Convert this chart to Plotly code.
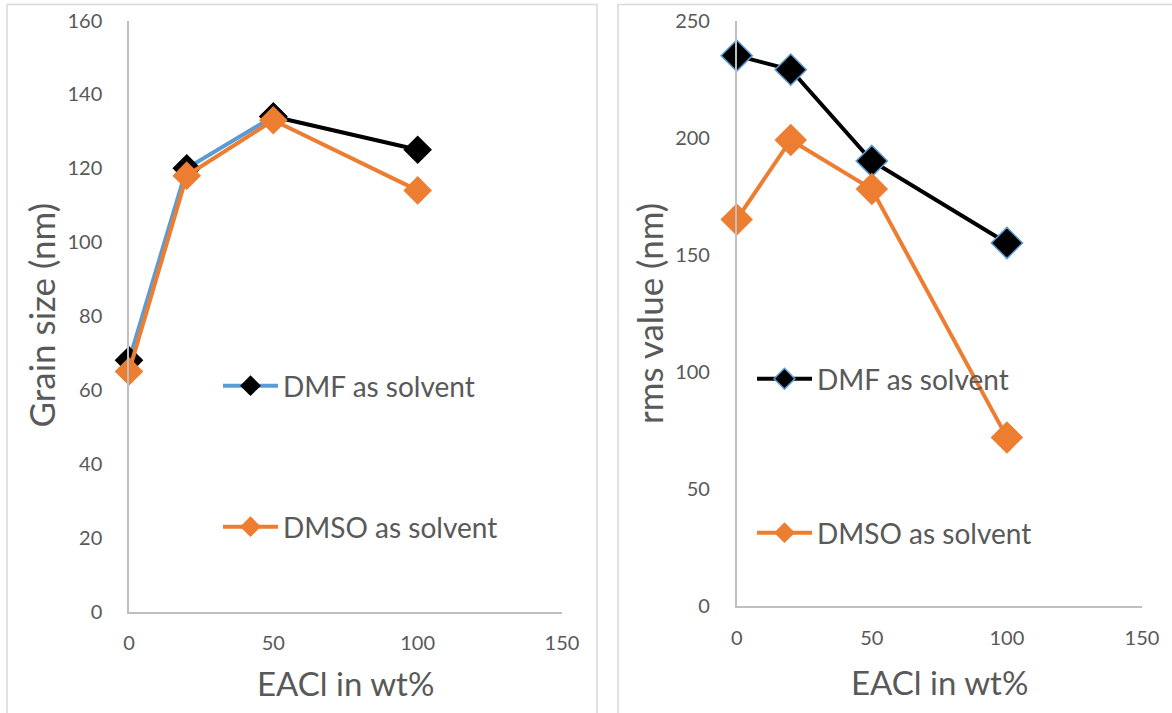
import plotly.graph_objects as go

# EACl loading (wt%) shared by both panels
eacl_wt = [0, 20, 50, 100]

# Grain size (nm)
dmf_grain = [68, 120, 134, 125]
dmso_grain = [65, 118, 133, 114]

# RMS roughness (nm)
dmf_rms = [235, 229, 190, 155]
dmso_rms = [165, 199, 178, 72]

x_ticks = [0, 50, 100, 150]
grain_ticks = [0, 20, 40, 60, 80, 100, 120, 140, 160]
rms_ticks = [0, 50, 100, 150, 200, 250]

W, H = 1172, 713
FONT = "Lato"
TEXT = "#595959"
ORANGE = "#ED7D31"
BLUE = "#5B9BD5"
BLACK = "#000000"
AXIS = "#BFBFBF"
FRAME = "#D9D9D9"
LW = 4


def px_x(p):
    return p / W


def px_y(p):
    return 1 - p / H


fig = go.Figure()

# Left panel: grain size
fig.add_trace(go.Scatter(
    x=eacl_wt[:3], y=dmf_grain[:3], mode="lines+markers", name="DMF as solvent",
    line=dict(color=BLUE, width=LW),
    marker=dict(symbol="diamond", size=22, color=BLACK),
    xaxis="x", yaxis="y", legend="legend", cliponaxis=False))
fig.add_trace(go.Scatter(
    x=eacl_wt[2:], y=dmf_grain[2:], mode="lines+markers", name="DMF as solvent",
    line=dict(color=BLACK, width=LW),
    marker=dict(symbol="diamond", size=22, color=BLACK),
    xaxis="x", yaxis="y", showlegend=False, cliponaxis=False))
fig.add_trace(go.Scatter(
    x=eacl_wt, y=dmso_grain, mode="lines+markers", name="DMSO as solvent",
    line=dict(color=ORANGE, width=LW),
    marker=dict(symbol="diamond", size=22, color=ORANGE),
    xaxis="x", yaxis="y", legend="legend2", cliponaxis=False))

# Right panel: rms roughness
fig.add_trace(go.Scatter(
    x=eacl_wt, y=dmf_rms, mode="lines+markers", name="DMF as solvent",
    line=dict(color=BLACK, width=LW),
    marker=dict(symbol="diamond", size=24, color=BLACK,
                line=dict(color=BLUE, width=1.5)),
    xaxis="x2", yaxis="y2", legend="legend3", cliponaxis=False))
fig.add_trace(go.Scatter(
    x=eacl_wt, y=dmso_rms, mode="lines+markers", name="DMSO as solvent",
    line=dict(color=ORANGE, width=LW),
    marker=dict(symbol="diamond", size=25, color=ORANGE),
    xaxis="x2", yaxis="y2", legend="legend4", cliponaxis=False))

tick_font = dict(family=FONT, size=20, color=TEXT)
axis_common = dict(showgrid=False, zeroline=False, showline=True,
                   linecolor=AXIS, linewidth=1.5, ticks="", automargin=False,
                   tickfont=tick_font, fixedrange=True)

legend_common = dict(xanchor="left", yanchor="middle", bgcolor="rgba(0,0,0,0)",
                     itemwidth=55, font=dict(family=FONT, size=28, color=TEXT))

fig.update_layout(
    width=W, height=H,
    margin=dict(l=0, r=0, t=0, b=0, pad=0, autoexpand=False),
    paper_bgcolor="white", plot_bgcolor="white",
    font=dict(family=FONT, color=TEXT),
    xaxis=dict(domain=[px_x(129), px_x(562)], range=[0, 150], tickvals=x_ticks,
               anchor="y", ticklabelstandoff=13, **axis_common),
    yaxis=dict(domain=[px_y(611.5), px_y(20.5)], range=[0, 160], tickvals=grain_ticks,
               anchor="x", ticklabelstandoff=21, **axis_common),
    xaxis2=dict(domain=[px_x(736.7), px_x(1142)], range=[0, 150], tickvals=x_ticks,
                anchor="y2", ticklabelstandoff=13, **axis_common),
    yaxis2=dict(domain=[px_y(606), px_y(20.5)], range=[0, 250], tickvals=rms_ticks,
                anchor="x2", ticklabelstandoff=21, **axis_common),
    legend=dict(x=px_x(218), y=px_y(386), **legend_common),
    legend2=dict(x=px_x(218), y=px_y(527), **legend_common),
    legend3=dict(x=px_x(752), y=px_y(379), **legend_common),
    legend4=dict(x=px_x(752), y=px_y(533), **legend_common),
    shapes=[
        dict(type="rect", xref="paper", yref="paper",
             x0=px_x(7), x1=px_x(597), y0=-0.02, y1=px_y(4.5),
             line=dict(color=FRAME, width=1.5), layer="below"),
        dict(type="rect", xref="paper", yref="paper",
             x0=px_x(618), x1=1.02, y0=-0.02, y1=px_y(4.5),
             line=dict(color=FRAME, width=1.5), layer="below"),
    ],
    annotations=[
        dict(text="Grain size (nm)", xref="paper", yref="paper",
             x=px_x(40), y=px_y(315.5), textangle=-90, showarrow=False,
             xanchor="center", yanchor="middle",
             font=dict(family=FONT, size=35, color=TEXT)),
        dict(text="rms value (nm)", xref="paper", yref="paper",
             x=px_x(649), y=px_y(314), textangle=-90, showarrow=False,
             xanchor="center", yanchor="middle",
             font=dict(family=FONT, size=35, color=TEXT)),
        dict(text="EACl in wt%", xref="paper", yref="paper",
             x=px_x(345.5), y=px_y(683), showarrow=False,
             xanchor="center", yanchor="middle",
             font=dict(family=FONT, size=33, color=TEXT)),
        dict(text="EACl in wt%", xref="paper", yref="paper",
             x=px_x(939.5), y=px_y(682), showarrow=False,
             xanchor="center", yanchor="middle",
             font=dict(family=FONT, size=33, color=TEXT)),
    ],
)

fig.write_html("out.html", config=dict(displayModeBar=False))
